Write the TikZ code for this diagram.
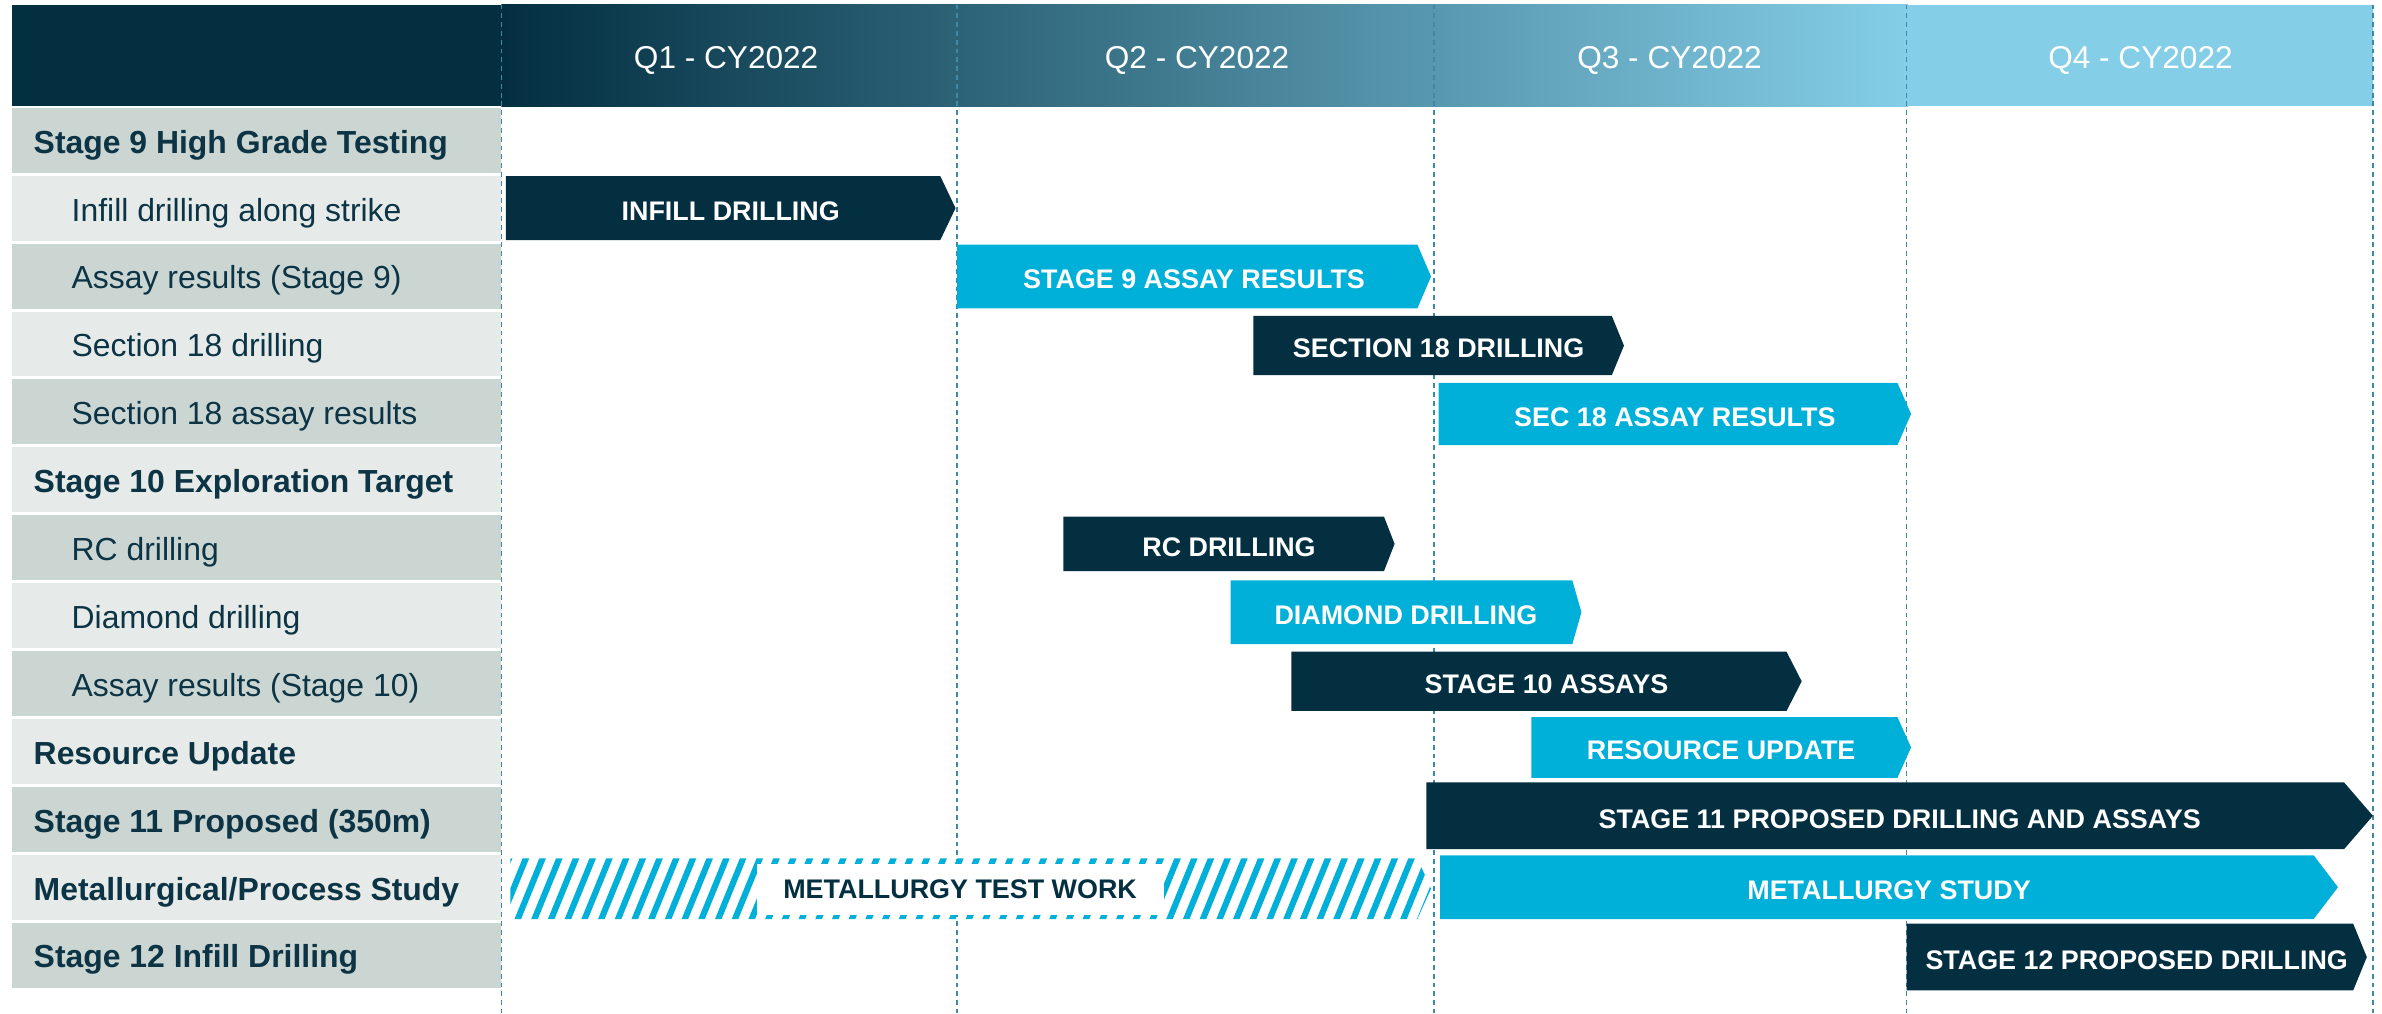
\documentclass[tikz,border=0pt]{standalone}
\usepackage{fontspec}
\setmainfont{Liberation Sans}
\definecolor{navy}{HTML}{032F41}
\definecolor{cyanbar}{HTML}{00B0D8}
\definecolor{hdrlight}{HTML}{84CEE7}
\definecolor{rowdark}{HTML}{CBD5D2}
\definecolor{rowlight}{HTML}{E6EBE9}
\definecolor{labtext}{HTML}{0C3445}
\definecolor{gridline}{HTML}{3F88A8}
\tikzset{
  hdrtext/.style={text=white,font=\fontsize{20.8}{24}\selectfont,inner sep=0pt},
  rowhead/.style={anchor=west,text=labtext,font=\bfseries\fontsize{21}{25}\selectfont,inner sep=0pt},
  rowsub/.style={anchor=west,text=labtext,font=\fontsize{21}{25}\selectfont,inner sep=0pt},
  bartext/.style={text=white,font=\bfseries\fontsize{17.7}{21}\selectfont,inner sep=0pt},
  gridl/.style={draw=gridline,line width=0.8pt,dash pattern=on 3.2pt off 2.6pt},
}
\newcommand\gbar[8]{%
  \fill[#7] (#2,#5) -- (#3,#5) -- (#4,{(#5+#6)/2}) -- (#3,#6) -- (#2,#6) -- cycle;
  \node[bartext] (#1) at ({(#2+#4)/2},{(#5+#6)/2+2}) {#8};
}
\begin{document}
\begin{tikzpicture}[x=1pt,y=-1pt]
\useasboundingbox (0,0) rectangle (1568,667);
% header
\fill[navy] (8,3) rectangle (331,70);
\shade[left color=navy,right color=hdrlight] (330,3) rectangle (1256,70);
\fill[hdrlight] (1255,3) rectangle (1562,70);
\node[hdrtext] (q1) at (478,40) {Q1 - CY2022};
\node[hdrtext] (q2) at (788,40) {Q2 - CY2022};
\node[hdrtext] (q3) at (1099,40) {Q3 - CY2022};
\node[hdrtext] (q4) at (1409,40) {Q4 - CY2022};
% row panel
\foreach \i/\c in {0/rowdark,1/rowlight,2/rowdark,3/rowlight,4/rowdark,5/rowlight,6/rowdark,7/rowlight,8/rowdark,9/rowlight,10/rowdark,11/rowlight,12/rowdark}{
  \fill[\c] (8,{70+\i*44.7+1}) rectangle (330,{70+(\i+1)*44.7-1});
}
\node[rowhead] (l1) at (22,{73+0.5*44.7}) {Stage 9 High Grade Testing};
\node[rowsub] (l2) at (47,{73+1.5*44.7}) {Infill drilling along strike};
\node[rowsub] (l3) at (47,{73+2.5*44.7}) {Assay results (Stage 9)};
\node[rowsub] (l4) at (47,{73+3.5*44.7}) {Section 18 drilling};
\node[rowsub] (l5) at (47,{73+4.5*44.7}) {Section 18 assay results};
\node[rowhead] (l6) at (22,{73+5.5*44.7}) {Stage 10 Exploration Target};
\node[rowsub] (l7) at (47,{73+6.5*44.7}) {RC drilling};
\node[rowsub] (l8) at (47,{73+7.5*44.7}) {Diamond drilling};
\node[rowsub] (l9) at (47,{73+8.5*44.7}) {Assay results (Stage 10)};
\node[rowhead] (l10) at (22,{73+9.5*44.7}) {Resource Update};
\node[rowhead] (l11) at (22,{73+10.5*44.7}) {Stage 11 Proposed (350m)};
\node[rowhead] (l12) at (22,{73+11.5*44.7}) {Metallurgical/Process Study};
\node[rowhead] (l13) at (22,{73+12.5*44.7}) {Stage 12 Infill Drilling};
% grid lines
\foreach \x in {330,630,944,1255,1562}{
  \draw[gridl] (\x,3) -- (\x,667);
}
% bars
\gbar{b1}{333}{619}{629}{116}{158}{navy}{INFILL DRILLING}
\gbar{b2}{630}{933}{942}{161}{203}{cyanbar}{STAGE 9 ASSAY RESULTS}
\gbar{b3}{825}{1061}{1069}{208}{247}{navy}{SECTION 18 DRILLING}
\gbar{b4}{947}{1249}{1258}{252}{293}{cyanbar}{SEC 18 ASSAY RESULTS}
\gbar{b5}{700}{911}{918}{340}{376}{navy}{RC DRILLING}
\gbar{b6}{810}{1035}{1041}{382}{424}{cyanbar}{DIAMOND DRILLING}
\gbar{b7}{850}{1176}{1186}{429}{468}{navy}{STAGE 10 ASSAYS}
\gbar{b8}{1008}{1249}{1258}{472}{512}{cyanbar}{RESOURCE UPDATE}
\gbar{b9}{939}{1543}{1562}{515}{559}{navy}{STAGE 11 PROPOSED DRILLING AND ASSAYS}
\gbar{b10}{948}{1523}{1539}{563}{605}{cyanbar}{METALLURGY STUDY}
\gbar{b11}{1255}{1549}{1558}{608}{652}{navy}{STAGE 12 PROPOSED DRILLING}
% hatched bar
\begin{scope}
  \clip (336,565) -- (933,565) -- (942,585) -- (933,605) -- (336,605) -- cycle;
  \foreach \i in {0,...,58}{
    \draw[cyanbar,line width=4pt] ({318+11*\i},607) -- ++(18,-44);
  }
\end{scope}
\node[fill=white,minimum width=268pt,minimum height=33pt,inner sep=0pt,text=navy,font=\bfseries\fontsize{17.7}{21}\selectfont] (b12) at (632,585.5) {\raisebox{-2pt}{METALLURGY TEST WORK}};
\end{tikzpicture}
\end{document}
